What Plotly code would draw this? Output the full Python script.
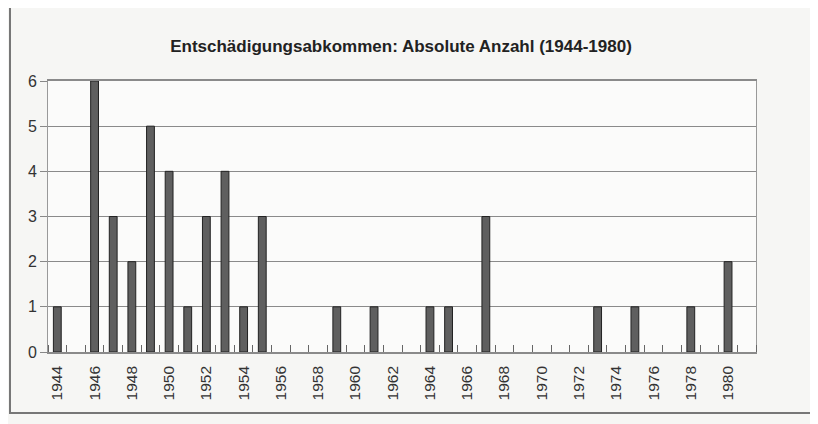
import plotly.graph_objects as go

years = list(range(1944, 1982))
counts = [1, 0, 6, 3, 2, 5, 4, 1, 3, 4, 1, 3, 0, 0, 0, 1, 0, 1, 0, 0,
          1, 1, 0, 3, 0, 0, 0, 0, 0, 1, 0, 1, 0, 0, 1, 0, 2, 0]
tick_years = list(range(1944, 1981, 2))
tick_labels = [str(y) for y in tick_years]
y_ticks = [0, 1, 2, 3, 4, 5, 6]

fig = go.Figure()
fig.add_trace(go.Bar(
    x=years, y=counts,
    marker=dict(color="#5f5f5f",
                line=dict(color="#222222", width=[1 if c > 0 else 0 for c in counts])),
    width=0.42,
))

L, T, PW, PH = 40, 73, 708, 271
fig.update_layout(
    width=818, height=424,
    margin=dict(l=L, r=818 - L - PW, t=T, b=424 - T - PH),
    paper_bgcolor="#f6f6f4",
    plot_bgcolor="#fbfbfa",
    showlegend=False,
    title=dict(
        text="<b>Entschädigungsabkommen: Absolute Anzahl (1944-1980)</b>",
        x=393 / 818, xanchor="center", y=1 - 38 / 424, yanchor="middle",
        yref="container",
        font=dict(family="Liberation Sans, Arial, sans-serif", size=17, color="#222222"),
    ),
    font=dict(family="Liberation Sans, Arial, sans-serif", size=14, color="#333333"),
    shapes=[dict(type="rect", xref="paper", yref="paper",
                 x0=-38 / PW, x1=830 / PW, y0=-61 / PH, y1=346 / PH,
                 line=dict(color="#777777", width=2), layer="below")],
)

fig.update_xaxes(
    range=[1943.5, 1981.5],
    tickmode="array", tickvals=tick_years, ticktext=tick_labels,
    tickangle=-90, ticks="", ticklabelstandoff=6,
    tickfont=dict(size=15.5, color="#333333"),
    showgrid=False, zeroline=False,
    showline=True, linecolor="#8a8a8a", linewidth=1.5, mirror=True,
    minor=dict(tick0=1943.5, dtick=1, ticks="inside", ticklen=7,
               tickcolor="#666666", tickwidth=1, showgrid=False),
)
fig.update_yaxes(
    range=[0, 6], tickvals=y_ticks,
    ticks="outside", ticklen=7, tickcolor="#888888",
    tickfont=dict(size=16, color="#333333"),
    showgrid=True, gridcolor="#8a8a8a", gridwidth=1,
    zeroline=False,
    showline=True, linecolor="#999999", linewidth=1, mirror=True,
)

fig.write_html("out.html")
